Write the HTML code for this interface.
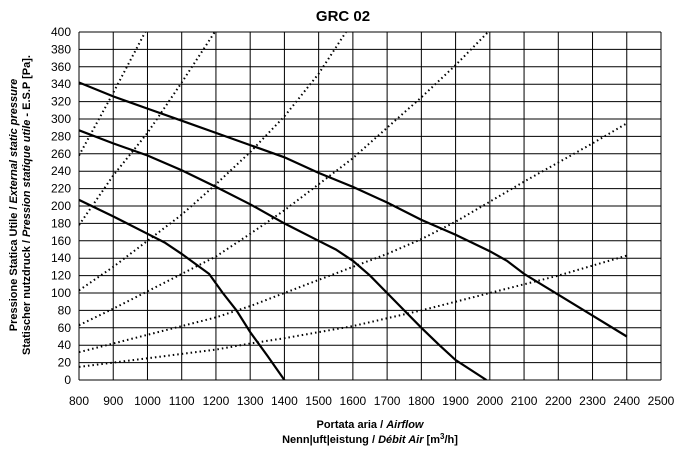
<!DOCTYPE html>
<html><head><meta charset="utf-8"><style>
body{margin:0;background:#fff;}
svg{display:block;font-family:"Liberation Sans",sans-serif;}
</style></head><body>
<svg id="c" width="681" height="451" viewBox="0 0 681 451">
<text x="343" y="21" text-anchor="middle" font-size="15" font-weight="bold">GRC 02</text>
<g id="grid"></g><g id="series"></g><g id="labels" font-size="12"></g>
<g transform="translate(17,205) rotate(-90)" font-size="11" font-weight="bold" text-anchor="middle">
<text x="0" y="0">Pressione Statica Utile / <tspan font-style="italic">External static pressure</tspan></text>
<text x="0" y="13">Statischer nutzdruck / <tspan font-style="italic">Pression statique utile</tspan> - E.S.P [Pa].</text>
</g>
<g font-size="11" font-weight="bold" text-anchor="middle">
<text x="370" y="428">Portata aria / <tspan font-style="italic">Airflow</tspan></text>
<text x="370" y="443">Nenn|uft|eistung / <tspan font-style="italic">Débit Air</tspan>  [m<tspan font-size="8" dy="-4">3</tspan><tspan dy="4">/h]</tspan></text>
</g>
</svg>
<script>
const xTicks=[800,900,1000,1100,1200,1300,1400,1500,1600,1700,1800,1900,2000,2100,2200,2300,2400,2500];
const yTicks=[0,20,40,60,80,100,120,140,160,180,200,220,240,260,280,300,320,340,360,380,400];
const fan1X=[800,900,1000,1050,1100,1180,1220,1260,1300,1350,1400];
const fan1Y=[207,188,168,158,145,122,100,80,55,28,0];
const fan2X=[800,900,1000,1100,1200,1300,1400,1500,1550,1600,1650,1700,1750,1800,1850,1900,1990];
const fan2Y=[287,272,258,241,222,202,180,160,150,137,120,100,80,60,41,23,0];
const fan3X=[800,900,1000,1100,1200,1300,1400,1500,1600,1700,1800,1900,2000,2050,2100,2200,2300,2400];
const fan3Y=[342,326,312,298,284,270,256,238,222,204,184,167,148,137,122,98,74,50];
const sysAX=[800,900,1000];const sysAY=[258,330,405];
const sysBX=[800,900,1000,1100,1200];const sysBY=[178,235,284,342,402];
const sysCX=[800,900,1000,1100,1200,1300,1400,1500,1580];const sysCY=[103,130,160,190,225,262,303,352,400];
const sysDX=[800,900,1000,1100,1200,1300,1400,1500,1600,1700,1800,1900,2000];const sysDY=[63,82,102,122,142,168,195,225,255,290,325,362,402];
const sysEX=[800,900,1000,1100,1200,1300,1400,1500,1600,1700,1800,1900,2000,2100,2200,2300,2400];const sysEY=[32,42,52,62,72,85,100,115,130,145,162,182,205,228,250,272,295];
const sysFX=[800,900,1000,1100,1200,1300,1400,1600,1800,2000,2200,2400];const sysFY=[15,20,25,30,35,42,48,62,80,100,120,143];
const X0=79,X1=661,Y0=380,Y1=32;
const sx=v=>X0+(v-800)/1700*(X1-X0);
const sy=v=>Y0-v/400*(Y0-Y1);
const NS="http://www.w3.org/2000/svg";
function mk(t,a,p){const e=document.createElementNS(NS,t);for(const k in a)e.setAttribute(k,a[k]);p.appendChild(e);return e;}
const g=document.getElementById('grid'),L=document.getElementById('labels'),S=document.getElementById('series');
xTicks.forEach(v=>{const l=mk('line',{x1:sx(v),x2:sx(v),y1:sy(0),y2:sy(400),stroke:'#000','stroke-width':1},g);


const t=mk('text',{x:sx(v),y:405,'text-anchor':'middle'},L);t.textContent=v;

});
yTicks.forEach(v=>{const l=mk('line',{x1:sx(800),x2:sx(2500),y1:sy(v),y2:sy(v),stroke:'#000','stroke-width':1},g);


const t=mk('text',{x:71,y:sy(v)+4,'text-anchor':'end'},L);t.textContent=v;

});
mk('clipPath',{id:'cp'},S).appendChild(document.createElementNS(NS,'rect'));
const r=S.querySelector('clipPath rect');r.setAttribute('x',X0);r.setAttribute('y',Y1);r.setAttribute('width',X1-X0);r.setAttribute('height',Y0-Y1);
function draw(xs,ys,dotted,name){const d=xs.map((x,i)=>(i?'L':'M')+sx(x).toFixed(1)+','+sy(ys[i]).toFixed(1)).join('');
const p=mk('path',{d:d,fill:'none',stroke:'#000','stroke-width':dotted?2:2.2,'stroke-dasharray':dotted?'1.5,3':'none','clip-path':'url(#cp)'},S);

}
draw(sysAX,sysAY,1,'system-curve-a');draw(sysBX,sysBY,1,'system-curve-b');draw(sysCX,sysCY,1,'system-curve-c');
draw(sysDX,sysDY,1,'system-curve-d');draw(sysEX,sysEY,1,'system-curve-e');draw(sysFX,sysFY,1,'system-curve-f');
draw(fan1X,fan1Y,0,'fan-curve-speed-1');draw(fan2X,fan2Y,0,'fan-curve-speed-2');draw(fan3X,fan3Y,0,'fan-curve-speed-3');
</script>
</body></html>
